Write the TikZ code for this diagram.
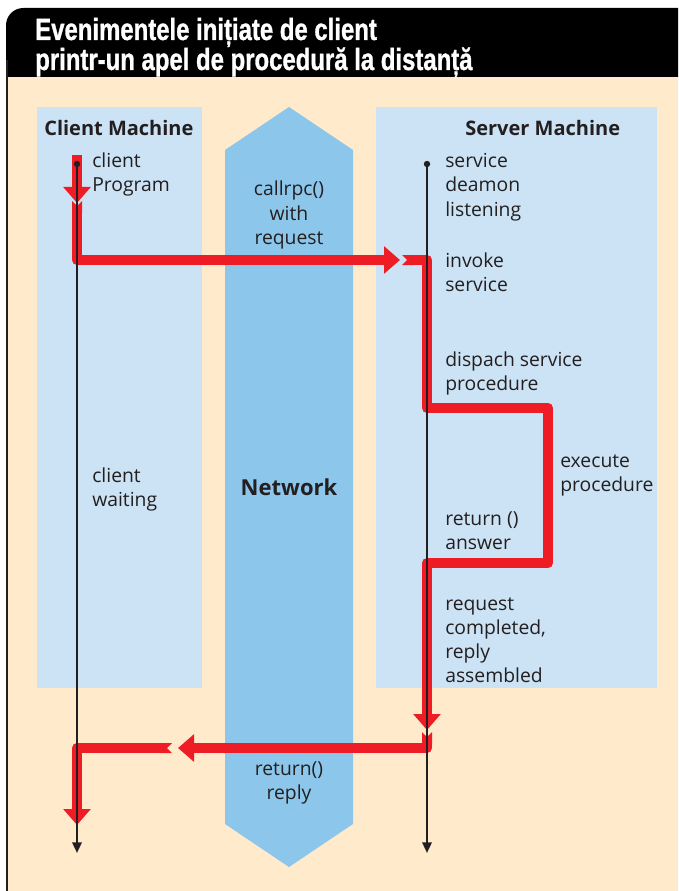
\documentclass[tikz,border=0pt]{standalone}
\usepackage{fontspec}
\setmainfont{Open Sans}
\newfontfamily\headfont[FakeStretch=0.78,FakeBold=1]{Liberation Sans}
\usetikzlibrary{arrows.meta}
\definecolor{cream}{HTML}{FFEBCC}
\definecolor{panelblue}{HTML}{CCE3F5}
\definecolor{netblue}{HTML}{8CC6EB}
\definecolor{rpcred}{HTML}{EE1C25}
\definecolor{ink}{HTML}{231F20}
\tikzset{
  lbl/.style={anchor=base west, align=left, inner sep=0pt, text=ink,
    font=\fontsize{14.5}{18}\selectfont},
  clbl/.style={lbl, anchor=base, align=center},
  machine/.style={anchor=base west, inner sep=0pt, text=ink,
    font=\bfseries\fontsize{15}{18}\selectfont},
  flow/.style={rpcred, line width=7.5pt, line join=round},
  flowtip/.style={-{Triangle[width=20pt,length=12pt]}},
  flowcut/.style={{Triangle Cap[reversed]}-{Triangle[width=20pt,length=12pt]}},
  lifeline/.style={ink, line width=1.7pt, -{Triangle[width=7pt,length=8pt]}}
}
\begin{document}
\begin{tikzpicture}[x=0.75pt, y=-0.75pt]
  \useasboundingbox (0,0) rectangle (678,891);
  \fill[white] (0,0) rectangle (678,891);
  \begin{scope}
    \clip (0,0) rectangle (678,891);
    \fill[cream] (7,77) rectangle (690,900);
    \fill[black] (6,77) [rounded corners=13pt] -- (6,8) [sharp corners] -- (690,8) -- (690,77) -- cycle;
    \draw[ink, line width=1.5pt] (6.5,60) -- (6.5,900);
  \end{scope}
  % multi-line nodes sit on the baseline of their last line
  \node[anchor=base west, align=left, inner sep=0pt, text=white,
    font=\headfont\bfseries\fontsize{23}{22.5}\selectfont] (title) at (35,70)
    {Evenimentele inițiate de client\\printr-un apel de procedură la distanță};

  % machines and network
  \fill[panelblue] (37,107) rectangle (202,688);
  \fill[panelblue] (376,107) rectangle (657,688);
  \fill[netblue] (289,107) -- (353,150) -- (353,824) -- (289,867) -- (225,824) -- (225,150) -- cycle;
  \node[machine] (client machine) at (44,136) {Client Machine};
  \node[machine] (server machine) at (465,136) {Server Machine};
  \node[anchor=base, inner sep=0pt, text=ink, font=\bfseries\fontsize{16.5}{18}\selectfont] (network) at (289,495) {Network};

  % call path
  \coordinate (c0) at (77,155);
  \coordinate (c1) at (77,203);
  \coordinate (c2) at (77,201);
  \coordinate (c3) at (77,260);
  \coordinate (c4) at (400,260);
  \coordinate (s0) at (402,260);
  \coordinate (s1) at (427,260);
  \coordinate (s2) at (427,408);
  \coordinate (s3) at (548,408);
  \coordinate (s4) at (548,563);
  \coordinate (s5) at (427,563);
  \coordinate (s6) at (427,730);
  \coordinate (s7) at (427,732);
  \coordinate (s8) at (427,748);
  \coordinate (r0) at (178,748);
  \coordinate (r1) at (172,748);
  \coordinate (r2) at (77,748);
  \coordinate (r3) at (77,825);
  \draw[flow, flowtip] (c0) -- (c1);
  \draw[flow, flowcut] (c2) -- (c3) -- (c4);
  \draw[flow, flowcut] (s0) -- (s1) -- (s2) -- (s3) -- (s4) -- (s5) -- (s6);
  \draw[flow, flowcut] (s7) -- (s8) -- (r0);
  \draw[flow, flowcut] (r1) -- (r2) -- (r3);

  % lifelines
  \coordinate (client top) at (77,164);
  \coordinate (client end) at (77,853);
  \coordinate (server top) at (427,164);
  \coordinate (server end) at (427,853);
  \draw[lifeline] (client top) -- (client end);
  \draw[lifeline] (server top) -- (server end);
  \fill[ink] (client top) circle (2.4pt);
  \fill[ink] (server top) circle (2.4pt);

  \node[lbl] (program) at (92,192) {client\\Program};
  \node[lbl] (waiting) at (92,506) {client\\waiting};
  \node[lbl] (daemon) at (445,216) {service\\deamon\\listening};
  \node[lbl] (invoke) at (445,291) {invoke\\service};
  \node[lbl] (dispatch) at (445,390) {dispach service\\procedure};
  \node[lbl] (execute) at (560,491) {execute\\procedure};
  \node[lbl] (answer) at (445,549) {return ()\\answer};
  \node[lbl] (assembled) at (445,682) {request\\completed,\\reply\\assembled};
  \node[clbl] (callrpc) at (289,244) {callrpc()\\with\\request};
  \node[clbl] (reply) at (289,799) {return()\\reply};
\end{tikzpicture}
\end{document}
